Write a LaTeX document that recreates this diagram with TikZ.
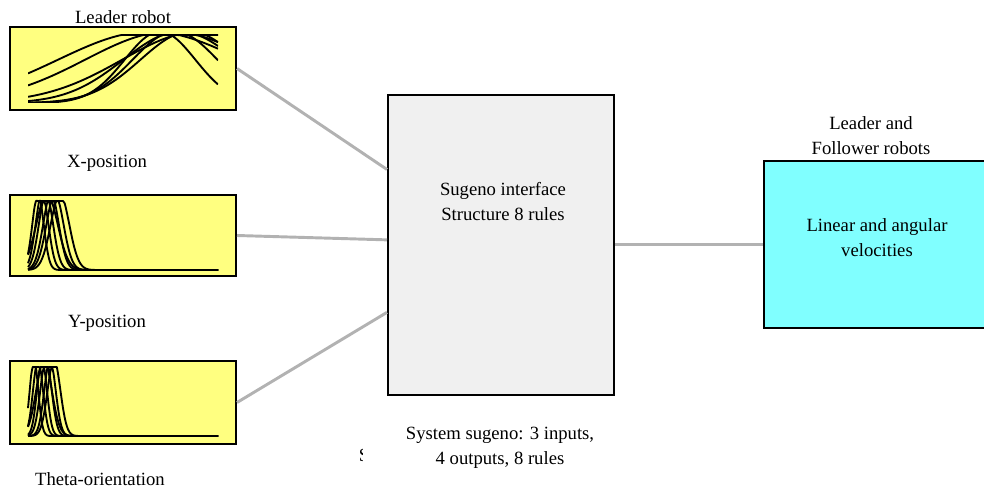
\documentclass[tikz,border=0pt]{standalone}
\usepackage{fontspec}
\setmainfont{Liberation Serif}
\usetikzlibrary{calc}
\definecolor{mfyellow}{RGB}{255,255,128}
\definecolor{fisgray}{RGB}{240,240,240}
\definecolor{outcyan}{RGB}{128,255,255}
\definecolor{linkgray}{RGB}{178,178,178}
\tikzset{
  mfbox/.style={draw=black,line width=1.5pt,fill=mfyellow,minimum width=169.5pt,inner sep=0pt},
  fisbox/.style={draw=black,line width=1.5pt,fill=fisgray,minimum width=169.5pt,minimum height=225pt,inner sep=0pt},
  outbox/.style={draw=black,line width=1.5pt,fill=outcyan,minimum width=169.5pt,minimum height=125.25pt,inner sep=0pt},
  link/.style={draw=linkgray,line width=2.2pt},
  mfcurve/.style={black,line width=1.4pt,line join=round,smooth},
  lbl/.style={font=\fontsize{14}{18.75}\selectfont,align=center,inner sep=0pt}
}
\begin{document}
\begin{tikzpicture}[x=0.75pt,y=-0.75pt]
\useasboundingbox (0,0) rectangle (984,491);
\clip (0,0) rectangle (984,491);
%input boxes
\node[mfbox,minimum height=62.25pt] (leader) at (123,68.5) {};
\node[mfbox,minimum height=60.75pt] (xpos) at (123,235.5) {};
\node[mfbox,minimum height=62.25pt] (theta) at (123,402.5) {};
%fuzzy system and output
\node[fisbox] (fis) at (501,245) {};
\node[outbox] (out) at (877,244.5) {};
%connectors
\draw[link] (leader.east) -- ($(fis.north west)!0.25!(fis.south west)$);
\draw[link] (xpos.east) -- ($(fis.north west)!0.483!(fis.south west)$);
\draw[link] (theta.east) -- ($(fis.north west)!0.723!(fis.south west)$);
\draw[link] (fis.east |- out.west) -- (out.west);
%membership functions: leader robot
\begin{scope}
\clip (28,35) rectangle (218,103);
\foreach \c/\s in {160/50,175/60,190/70,180/80,200/110,170/120,150/130}
  \draw[mfcurve] plot[domain=28:218,samples=70] (\x,{103-68*min(1,1.05*exp(-min(((\x-\c)/\s)^2,20)))});
\end{scope}
%membership functions: x-position
\begin{scope}
\clip (27,200) rectangle (218,271);
\foreach \c/\s in {38/8,42/9,46/10,51/11,55/12,60/13,47/15}
  \draw[mfcurve] plot[domain=28:218,samples=120] (\x,{270-69*min(1,1.1*exp(-min(((\x-\c)/\s)^2,20)))});
\end{scope}
%membership functions: theta
\begin{scope}
\clip (27,366) rectangle (218,437);
\foreach \c/\s in {34/6,38/7,42/7,46/8,50/8,54/9,44/11}
  \draw[mfcurve] plot[domain=28:218,samples=120] (\x,{436-69*min(1,1.1*exp(-min(((\x-\c)/\s)^2,20)))});
\end{scope}
%labels
\node[lbl] (lleader) at (123,17.5) {Leader robot};
\node[lbl] (lxpos) at (107,163) {X-position};
\node[lbl] (lypos) at (107,323) {Y-position};
\node[lbl] (ltheta) at (100,479) {Theta-orientation};
\node[lbl] (lfis) at (503,202) {Sugeno interface\\Structure 8 rules};
\node[lbl] (lsys) at (500,448) {System sugeno: 3 inputs,\\4 outputs, 8 rules};
\node[lbl] (lrobots) at (871,136) {Leader and\\Follower robots};
\node[lbl] (lout) at (877,238) {Linear and angular\\velocities};
%stray glyph
\begin{scope}
\clip (355,440) rectangle (362.5,470);
\node[lbl,anchor=west] (lstray) at (358.5,455) {S};
\end{scope}
\end{tikzpicture}
\end{document}
